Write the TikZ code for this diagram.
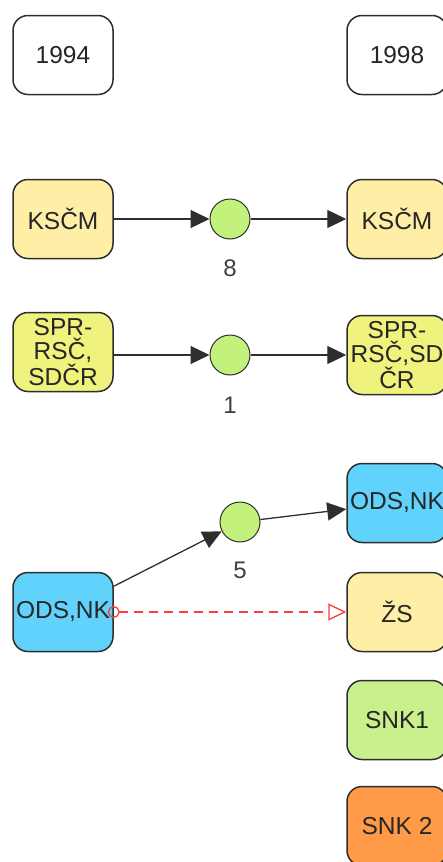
\documentclass[tikz,border=0pt]{standalone}
\usepackage{fontspec}
\setmainfont{Liberation Sans}
\usepackage{tikz}
\usetikzlibrary{arrows.meta, positioning}
\definecolor{kscmfill}{HTML}{FFEFA6}
\definecolor{sprfill}{HTML}{EFF27C}
\definecolor{odsfill}{HTML}{60D2FB}
\definecolor{votefill}{HTML}{C2F27C}
\definecolor{snkone}{HTML}{C8F08D}
\definecolor{snktwo}{HTML}{FF9A48}
\definecolor{linegray}{HTML}{2E2E2E}
\definecolor{dashred}{HTML}{FF3B3B}

\begin{document}
\begin{tikzpicture}[x=1pt,y=-1pt,
	party/.style={draw=linegray,line width=1.5pt,rounded corners=15pt,
		minimum width=100pt,minimum height=79pt,inner sep=0pt,align=center,
		font=\fontsize{24.5}{24}\selectfont,text=black!85},
	vote/.style={circle,draw=linegray,line width=1pt,fill=votefill,minimum size=40pt,inner sep=0pt},
	num/.style={inner sep=0pt,font=\fontsize{24}{24}\selectfont,text=black!75},
	flow/.style={draw=linegray,line width=1.3pt,-{Triangle[length=19pt,width=18pt]}},
	swap/.style={draw=dashred,line width=1.3pt,dash pattern=on 9pt off 6pt,
		{Circle[open,length=12pt,width=12pt]}-{Triangle[open,length=18pt,width=17pt]},shorten <=-6pt}]
	\useasboundingbox (0,0) rectangle (443,862);
	\node[party,fill=white] (y94) at (63,55) {1994};
	\node[party,fill=white] (y98) at (397,55) {1998};
	\node[party,fill=kscmfill] (ksc94) at (63,219) {KSČM};
	\node[party,fill=kscmfill] (ksc98) at (397,219) {KSČM};
	\node[party,fill=sprfill] (spr94) at (63,352) {SPR-\\RSČ,\\SDČR};
	\node[party,fill=sprfill] (spr98) at (397,355) {SPR-\\RSČ,SD\\ČR};
	\node[party,fill=odsfill] (ods98) at (397,503) {ODS,NK};
	\node[party,fill=odsfill] (ods94) at (63,612) {ODS,NK};
	\node[party,fill=kscmfill] (zs98) at (397,612) {ŽS};
	\node[party,fill=snkone] (snk98) at (397,720) {SNK1};
	\node[party,fill=snktwo] (snkb98) at (397,826) {SNK 2};
	\node[vote] (c8) at (230,219) {};
	\node[vote] (c1) at (230,355) {};
	\node[vote] (c5) at (240,522) {};
	\node[num,below=20pt of c8] (n8) {8};
	\node[num,below=21pt of c1] (n1) {1};
	\node[num,below=19pt of c5] (n5) {5};
	\draw[flow] (ksc94) -- (c8);
	\draw[flow] (c8) -- (ksc98);
	\draw[flow] (spr94.east |- c1) -- (c1);
	\draw[flow] (c1) -- (spr98);
	\draw[flow] (ods94) -- (c5);
	\draw[flow] (c5) -- (ods98);
	\draw[swap] (ods94.east) -- (zs98.west);
\end{tikzpicture}
\end{document}
